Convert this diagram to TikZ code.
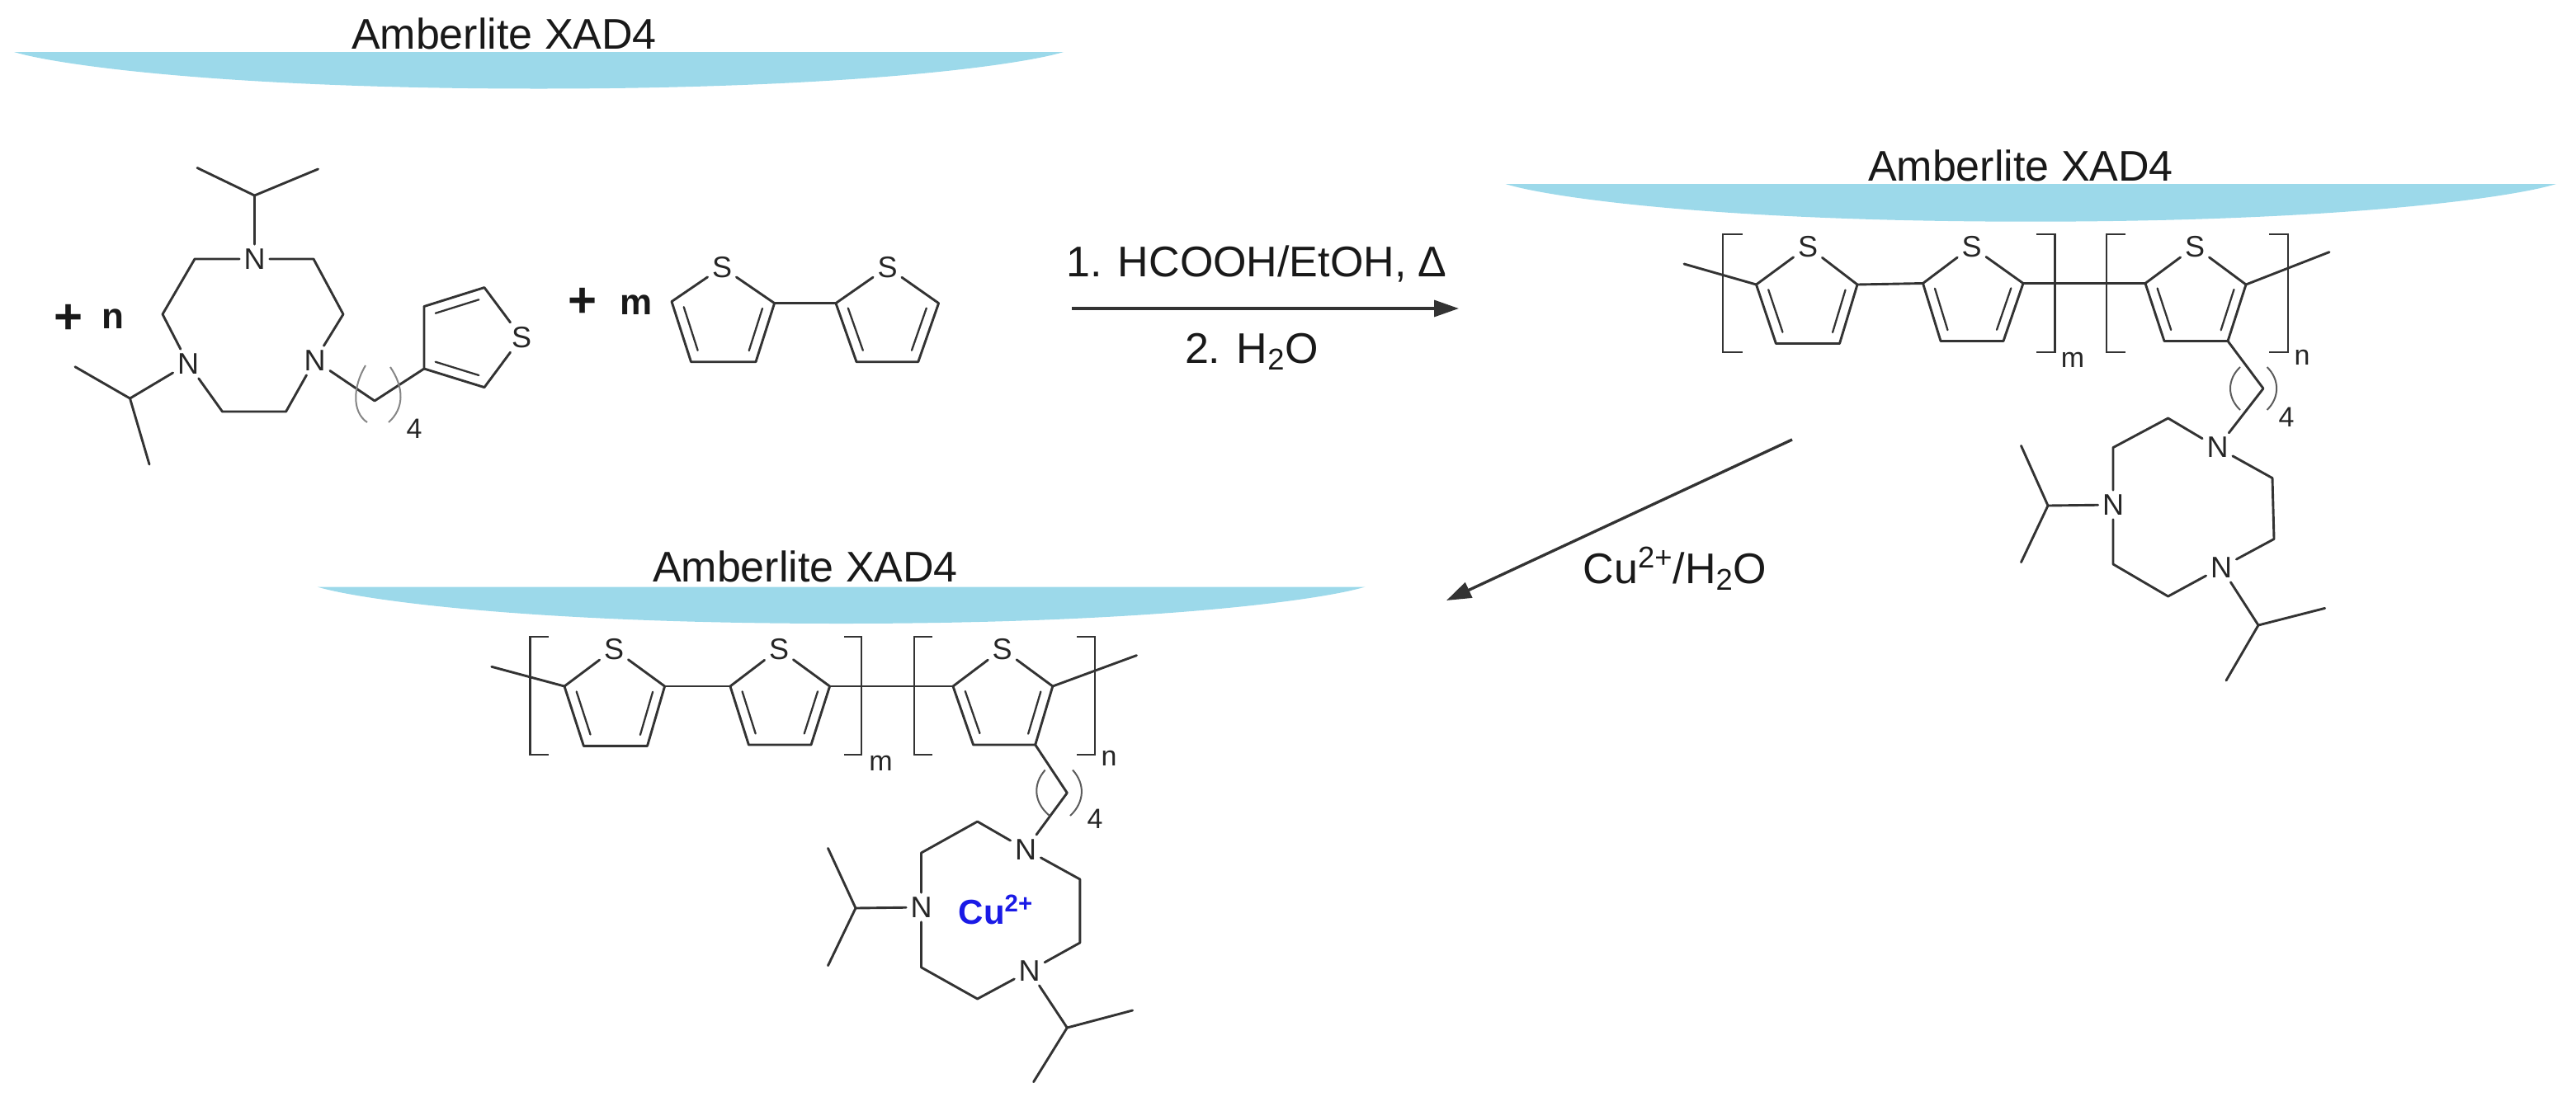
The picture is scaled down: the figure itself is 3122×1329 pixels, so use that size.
\documentclass[tikz,border=0pt]{standalone}
\usepackage{fontspec}
\setmainfont{Liberation Sans}
\usetikzlibrary{calc,arrows.meta}
\definecolor{lenscol}{HTML}{9CD9EA}
\definecolor{bondcol}{HTML}{333333}
\definecolor{cublue}{HTML}{1A1AE6}
\tikzset{
  bond/.style={draw=bondcol,line width=1.45pt,line cap=round,line join=round},
  thinbond/.style={draw=bondcol,line width=1.15pt,line cap=round},
  bracketline/.style={draw=bondcol,line width=1.35pt},
  parenline/.style={draw=bondcol!80,line width=1pt},
  lens/.style={fill=lenscol,draw=none},
  atom/.style={inner sep=2.5pt,font=\fontsize{18}{20}\selectfont,text=black!85},
  smalllbl/.style={inner sep=0pt,font=\fontsize{17}{20}\selectfont,text=black!85},
  biglbl/.style={inner sep=0pt,anchor=base,font=\fontsize{26}{30}\selectfont,text=black!90},
  plusmark/.style={inner sep=0pt,font=\bfseries\fontsize{30}{30}\selectfont,text=black!90},
  countlbl/.style={inner sep=0pt,font=\bfseries\fontsize{22}{24}\selectfont,text=black!90},
  culbl/.style={inner sep=0pt,anchor=base,font=\bfseries\fontsize{21}{24}\selectfont,text=cublue},
  rxnarrow/.style={draw=bondcol,line width=1.7pt,-{Triangle[length=15pt,width=10pt]}}
}
\newcommand{\innerbond}[2]{\draw[thinbond] ($(#1)!0.14!(#2)!-6pt!90:(#2)$) -- ($(#2)!0.14!(#1)!6pt!90:(#1)$);}
\begin{document}
\begin{tikzpicture}[x=0.5pt,y=-0.5pt]
\useasboundingbox (0,0) rectangle (3122,1329);

% ---------- resin supports
\path[lens] (17,63) .. controls (68,78.6) and (271,107.5) .. (653,107.5) .. controls (1035,107.5) and (1238,78.6) .. (1289,63) -- cycle;
\path[lens] (1824.5,223) .. controls (1875.4,239) and (2079,268.7) .. (2461,268.7) .. controls (2843,268.7) and (3047,239) .. (3098,223) -- cycle;
\path[lens] (384.6,711.5) .. controls (435.4,727) and (638.6,756) .. (1019.5,756) .. controls (1400.5,756) and (1603.6,727) .. (1654.5,711.5) -- cycle;
\node[biglbl] (res1) at (611,59) {Amberlite XAD4};
\node[biglbl] (res2) at (2449,219) {Amberlite XAD4};
\node[biglbl] (res3) at (976,705) {Amberlite XAD4};

% ---------- monomer
\node[plusmark] (plusn) at (83,387) {+};
\node[countlbl] (cntn) at (137,387) {n};
\node[plusmark] (plusm) at (706.5,367) {+};
\node[countlbl] (cntm) at (771,370) {m};

\node[atom] (mNt) at (308.5,314) {N};
\node[atom] (mNl) at (228,441) {N};
\node[atom] (mNr) at (381.5,437) {N};
\node[atom] (mS) at (632,409) {S};
\coordinate (mi1) at (308.5,237);
\coordinate (mi1a) at (239,203.5);
\coordinate (mi1b) at (385.5,205);
\coordinate (mr1) at (236,314);
\coordinate (mr2) at (197,381);
\coordinate (mr3) at (269.5,499);
\coordinate (mr4) at (346.6,499);
\coordinate (mr5) at (416,381);
\coordinate (mr6) at (380,314);
\coordinate (mi2) at (157.5,483);
\coordinate (mi2a) at (91,444.7);
\coordinate (mi2b) at (181,563);
\coordinate (mch) at (454,486);
\coordinate (mt1) at (514,447);
\coordinate (mt2) at (514,371.5);
\coordinate (mt3) at (587,348.6);
\coordinate (mt4) at (587,469.6);
\draw[bond] (mi1a) -- (mi1) -- (mi1b);
\draw[bond] (mi1) -- (mNt);
\draw[bond] (mNt) -- (mr1) -- (mr2) -- (mNl);
\draw[bond] (mNl) -- (mr3) -- (mr4) -- (mNr);
\draw[bond] (mNr) -- (mr5) -- (mr6) -- (mNt);
\draw[bond] (mi2a) -- (mi2) -- (mi2b);
\draw[bond] (mi2) -- (mNl);
\draw[bond] (mNr) -- (mch) -- (mt1);
\draw[bond] (mt1) -- (mt2) -- (mt3) -- (mS);
\draw[bond] (mS) -- (mt4) -- (mt1);
\innerbond{mt2}{mt3}
\innerbond{mt4}{mt1}
\draw[parenline,draw=bondcol!60] (443,443) .. controls (427,470) and (427,500) .. (445,512);
\draw[parenline,draw=bondcol!60] (473,445) .. controls (490,470) and (490,495) .. (471,512);
\node[smalllbl] (m4) at (502,520) {4};

% ---------- bithiophene
\node[atom] (bS1) at (875,324) {S};
\node[atom] (bS2) at (1075.5,324) {S};
\coordinate (ba1) at (814,365.6);
\coordinate (ba2) at (837.5,438.7);
\coordinate (ba3) at (916,438.7);
\coordinate (ba4) at (938.6,367.6);
\coordinate (bb1) at (1013,367.6);
\coordinate (bb2) at (1038,438.7);
\coordinate (bb3) at (1112.8,438.7);
\coordinate (bb4) at (1137.6,367.6);
\draw[bond] (bS1) -- (ba1) -- (ba2) -- (ba3) -- (ba4) -- (bS1);
\draw[bond] (bS2) -- (bb1) -- (bb2) -- (bb3) -- (bb4) -- (bS2);
\draw[bond] (ba4) -- (bb1);
\innerbond{ba2}{ba1}
\innerbond{ba4}{ba3}
\innerbond{bb2}{bb1}
\innerbond{bb4}{bb3}

% ---------- arrows
\coordinate (ar1s) at (1299,374);
\coordinate (ar1e) at (1768,374);
\coordinate (ar2s) at (2172,533);
\coordinate (ar2e) at (1753,728);
\draw[rxnarrow] (ar1s) -- (ar1e);
\draw[rxnarrow] (ar2s) -- (ar2e);
\node[biglbl] (cond1) at (1523,335) {1. HCOOH/EtOH, Δ};
\node[biglbl] (cond2) at (1517,440) {2. H\textsubscript{2}O};
\node[biglbl] (cond3) at (2030,707) {Cu\textsuperscript{2+}/H\textsubscript{2}O};

% ---------- product 1
\node[atom] (pAS) at (2191,299) {S};
\node[atom] (pBS) at (2389.6,299) {S};
\node[atom] (pCS) at (2660,299) {S};
\coordinate (pA1) at (2128.5,345);
\coordinate (pA2) at (2152.4,416.5);
\coordinate (pA3) at (2229.5,416.5);
\coordinate (pA4) at (2251,345);
\coordinate (pB1) at (2330.5,343.5);
\coordinate (pB2) at (2352,413.5);
\coordinate (pB3) at (2428,413.5);
\coordinate (pB4) at (2452,343.5);
\coordinate (pC1) at (2600,343.5);
\coordinate (pC2) at (2623,413.5);
\coordinate (pC3) at (2700,413.5);
\coordinate (pC4) at (2722,345);
\coordinate (pL) at (2041,320);
\coordinate (pR) at (2823,305.6);
\draw[bond] (pAS) -- (pA1) -- (pA2) -- (pA3) -- (pA4) -- (pAS);
\draw[bond] (pBS) -- (pB1) -- (pB2) -- (pB3) -- (pB4) -- (pBS);
\draw[bond] (pCS) -- (pC1) -- (pC2) -- (pC3) -- (pC4) -- (pCS);
\draw[bond] (pL) -- (pA1);
\draw[bond] (pA4) -- (pB1);
\draw[bond] (pB4) -- (pC1);
\draw[bond] (pC4) -- (pR);
\innerbond{pA2}{pA1}
\innerbond{pA4}{pA3}
\innerbond{pB2}{pB1}
\innerbond{pB4}{pB3}
\innerbond{pC2}{pC1}
\innerbond{pC4}{pC3}
\draw[bracketline] (2112,284) -- (2088,284) -- (2088,427) -- (2112,427);
\draw[bracketline] (2467.5,284) -- (2490.6,284) -- (2490.6,427) -- (2467.5,427);
\draw[bracketline] (2576,284) -- (2553,284) -- (2553,427) -- (2576,427);
\draw[bracketline] (2750,284) -- (2773,284) -- (2773,427) -- (2750,427);
\node[smalllbl] (pm) at (2512,436) {m};
\node[smalllbl] (pn) at (2790,433) {n};
\node[atom] (pN1) at (2687.5,542.6) {N};
\node[atom] (pN2) at (2561,612) {N};
\node[atom] (pN3) at (2692,688) {N};
\coordinate (pch) at (2743,471);
\coordinate (pr1) at (2627.6,507);
\coordinate (pr2) at (2561,542.6);
\coordinate (pr3) at (2561,684);
\coordinate (pr4) at (2627.6,723);
\coordinate (pr5) at (2756,653.5);
\coordinate (pr6) at (2754,579.6);
\coordinate (pi1) at (2482,613);
\coordinate (pi1a) at (2449.5,540.4);
\coordinate (pi1b) at (2449.5,681.7);
\coordinate (pi2) at (2737,758);
\coordinate (pi2a) at (2817.7,737.4);
\coordinate (pi2b) at (2698,825);
\draw[bond] (pC3) -- (pch) -- (pN1);
\draw[bond] (pN1) -- (pr1) -- (pr2) -- (pN2);
\draw[bond] (pN2) -- (pr3) -- (pr4) -- (pN3);
\draw[bond] (pN3) -- (pr5) -- (pr6) -- (pN1);
\draw[bond] (pi1a) -- (pi1) -- (pi1b);
\draw[bond] (pi1) -- (pN2);
\draw[bond] (pN3) -- (pi2);
\draw[bond] (pi2a) -- (pi2) -- (pi2b);
\draw[parenline] (2715,445) .. controls (2699,460) and (2699,482) .. (2715,497);
\draw[parenline] (2747.5,445) .. controls (2763,460) and (2763,482) .. (2747.5,497);
\node[smalllbl] (p4) at (2771,505.6) {4};

% ---------- product 2
\node[atom] (qAS) at (744,787) {S};
\node[atom] (qBS) at (944,787) {S};
\node[atom] (qCS) at (1214.7,787) {S};
\coordinate (qA1) at (684,832);
\coordinate (qA2) at (707.4,904.4);
\coordinate (qA3) at (784.5,904.4);
\coordinate (qA4) at (805.6,832);
\coordinate (qB1) at (885,832);
\coordinate (qB2) at (907.4,903);
\coordinate (qB3) at (983,903);
\coordinate (qB4) at (1005.6,832);
\coordinate (qC1) at (1155,832);
\coordinate (qC2) at (1179.6,903);
\coordinate (qC3) at (1254.7,903);
\coordinate (qC4) at (1275.8,832);
\coordinate (qL) at (595.8,808.3);
\coordinate (qR) at (1377.5,794.6);
\draw[bond] (qAS) -- (qA1) -- (qA2) -- (qA3) -- (qA4) -- (qAS);
\draw[bond] (qBS) -- (qB1) -- (qB2) -- (qB3) -- (qB4) -- (qBS);
\draw[bond] (qCS) -- (qC1) -- (qC2) -- (qC3) -- (qC4) -- (qCS);
\draw[bond] (qL) -- (qA1);
\draw[bond] (qA4) -- (qB1);
\draw[bond] (qB4) -- (qC1);
\draw[bond] (qC4) -- (qR);
\innerbond{qA2}{qA1}
\innerbond{qA4}{qA3}
\innerbond{qB2}{qB1}
\innerbond{qB4}{qB3}
\innerbond{qC2}{qC1}
\innerbond{qC4}{qC3}
\draw[bracketline] (665,772) -- (642.8,772) -- (642.8,915) -- (665,915);
\draw[bracketline] (1023,772) -- (1044,772) -- (1044,915) -- (1023,915);
\draw[bracketline] (1130,772) -- (1108,772) -- (1108,915) -- (1130,915);
\draw[bracketline] (1305,772) -- (1327,772) -- (1327,915) -- (1305,915);
\node[smalllbl] (qm) at (1067.4,925) {m};
\node[smalllbl] (qn) at (1344,919.4) {n};
\node[atom] (qN1) at (1243,1029.7) {N};
\node[atom] (qN2) at (1116.5,1100) {N};
\node[atom] (qN3) at (1247.7,1177) {N};
\coordinate (qch) at (1293.3,961.3);
\coordinate (qr1) at (1184.6,996);
\coordinate (qr2) at (1116.5,1034);
\coordinate (qr3) at (1116.5,1172.8);
\coordinate (qr4) at (1184.6,1211);
\coordinate (qr5) at (1308.8,1143);
\coordinate (qr6) at (1308.8,1066);
\coordinate (qi1) at (1037,1101);
\coordinate (qi1a) at (1003.5,1028.4);
\coordinate (qi1b) at (1003.5,1170.7);
\coordinate (qi2) at (1293.3,1246);
\coordinate (qi2a) at (1372.6,1225);
\coordinate (qi2b) at (1252.6,1311.7);
\draw[bond] (qC3) -- (qch) -- (qN1);
\draw[bond] (qN1) -- (qr1) -- (qr2) -- (qN2);
\draw[bond] (qN2) -- (qr3) -- (qr4) -- (qN3);
\draw[bond] (qN3) -- (qr5) -- (qr6) -- (qN1);
\draw[bond] (qi1a) -- (qi1) -- (qi1b);
\draw[bond] (qi1) -- (qN2);
\draw[bond] (qN3) -- (qi2);
\draw[bond] (qi2a) -- (qi2) -- (qi2b);
\draw[parenline] (1266.7,933.5) .. controls (1252,950) and (1252,972) .. (1272,989);
\draw[parenline] (1300,933.5) .. controls (1315,950) and (1315,972) .. (1297,989);
\node[smalllbl] (q4) at (1327,993) {4};
\node[culbl] (cu) at (1207,1120.7) {Cu\textsuperscript{2+}};
\end{tikzpicture}
\end{document}
